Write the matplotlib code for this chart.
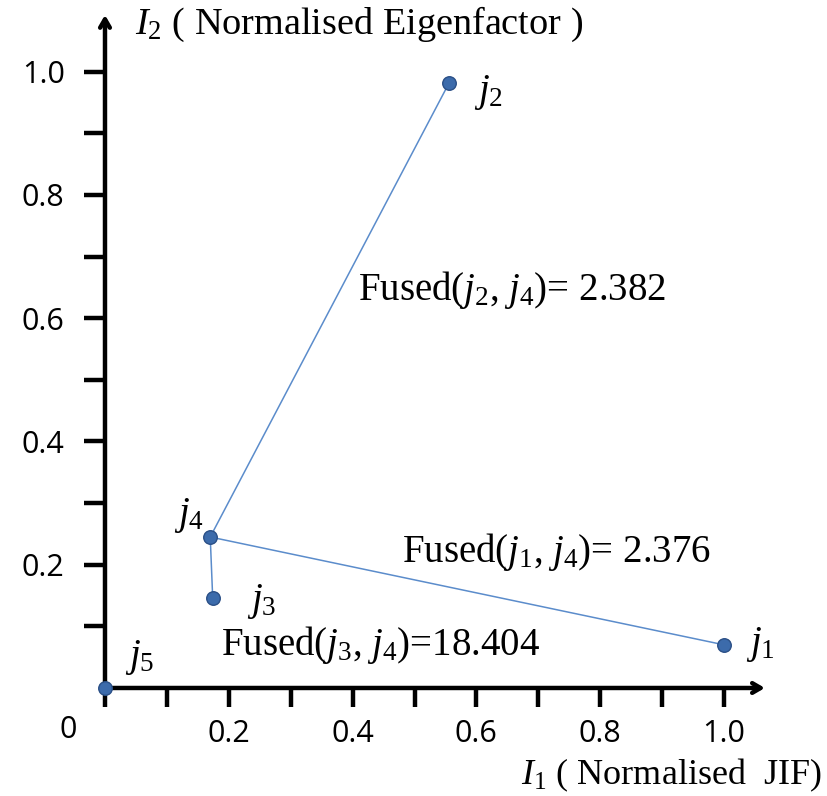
import matplotlib
matplotlib.use("Agg")
import matplotlib.pyplot as plt

plt.rcParams["mathtext.fontset"] = "custom"
plt.rcParams["mathtext.rm"] = "Liberation Serif"
plt.rcParams["mathtext.it"] = "Liberation Serif:italic"

# normalised indicator values of the five journals
names = ["j1", "j2", "j3", "j4", "j5"]
jif = [1.0, 0.556, 0.174, 0.170, 0.0]
eigen = [0.07, 0.982, 0.146, 0.245, 0.0]

# fused distances of j4 to the others
pairs = [("j2", "j4"), ("j1", "j4"), ("j3", "j4")]
fused_txt = ["2.382", "2.376", "18.404"]

xticks = [0.0, 0.1, 0.2, 0.3, 0.4, 0.5, 0.6, 0.7, 0.8, 0.9, 1.0]
yticks = [0.1, 0.2, 0.3, 0.4, 0.5, 0.6, 0.7, 0.8, 0.9, 1.0]

line_c = "#5b8ccb"
dot_c = "#3c6bab"

fig = plt.figure(figsize=(8.28, 7.96), dpi=100)
ax = fig.add_axes([0.1268, 0.1357, 0.797, 0.8455])
ax.set_xlim(0, 1.066)
ax.set_ylim(0, 1.092)

pos = {n: (x, y) for n, x, y in zip(names, jif, eigen)}
for a, b in pairs:
    ax.plot([pos[a][0], pos[b][0]], [pos[a][1], pos[b][1]], color=line_c, lw=1.1, zorder=2)
ax.scatter(jif, eigen, s=95, color=dot_c, edgecolors="#2a4f86", linewidths=1.0,
           zorder=3, clip_on=False)

serif = "Liberation Serif"
lab_off = {"j1": (0.035, 0.0), "j2": (0.04, -0.015), "j3": (0.055, -0.005),
           "j4": (-0.058, 0.035), "j5": (0.033, 0.05)}
for n in names:
    dx, dy = lab_off[n]
    ax.text(pos[n][0] + dx, pos[n][1] + dy, r"$j_{%s}$" % n[1:], fontsize=28,
            family=serif, ha="left", va="center")

fused_pos = [(0.408, 0.645), (0.48, 0.22), (0.188, 0.07)]
for (a, b), txt, (tx, ty) in zip(pairs, fused_txt, fused_pos):
    sep = "= " if not txt.startswith("18") else "="
    ax.text(tx, ty, r"Fused($j_{%s}$, $j_{%s}$)%s%s" % (a[1:], b[1:], sep, txt),
            fontsize=28, family=serif, ha="left", va="center")

for s in ax.spines.values():
    s.set_visible(False)

# axis arrows
for tip in [(1.0, 0), (0, 1.0)]:
    ax.annotate("", xy=tip, xytext=(0, 0), xycoords="axes fraction",
                arrowprops=dict(arrowstyle="->,head_length=0.6,head_width=0.35", lw=3.2,
                                color="black", shrinkA=0, shrinkB=0), zorder=1)

ax.set_xticks(xticks)
ax.set_xticklabels(["%.1f" % v if v > 0 and round(v * 10) % 2 == 0 else "" for v in xticks])
ax.set_yticks(yticks)
ax.set_yticklabels(["%.1f" % v if round(v * 10) % 2 == 0 else "" for v in yticks])
ax.tick_params(axis="x", direction="out", length=14, width=3.2, pad=8, labelsize=22)
ax.tick_params(axis="y", direction="out", length=15, width=3.2, pad=14, labelsize=22)
for lab in ax.get_xticklabels() + ax.get_yticklabels():
    lab.set_family("Open Sans")

fig.text(68 / 828, 1 - 730 / 796, "0", fontsize=22, family="Open Sans", ha="center", va="center")
fig.text(135 / 828, 1 - 24 / 796, r"$I_2$ ( Normalised Eigenfactor )", fontsize=27.5,
         family=serif, ha="left", va="center")
fig.text(822 / 828, 1 - 775 / 796, r"$I_1$ ( Normalised  JIF)", fontsize=26,
         family=serif, ha="right", va="center")

fig.savefig("out.png", dpi=100, facecolor="white")
